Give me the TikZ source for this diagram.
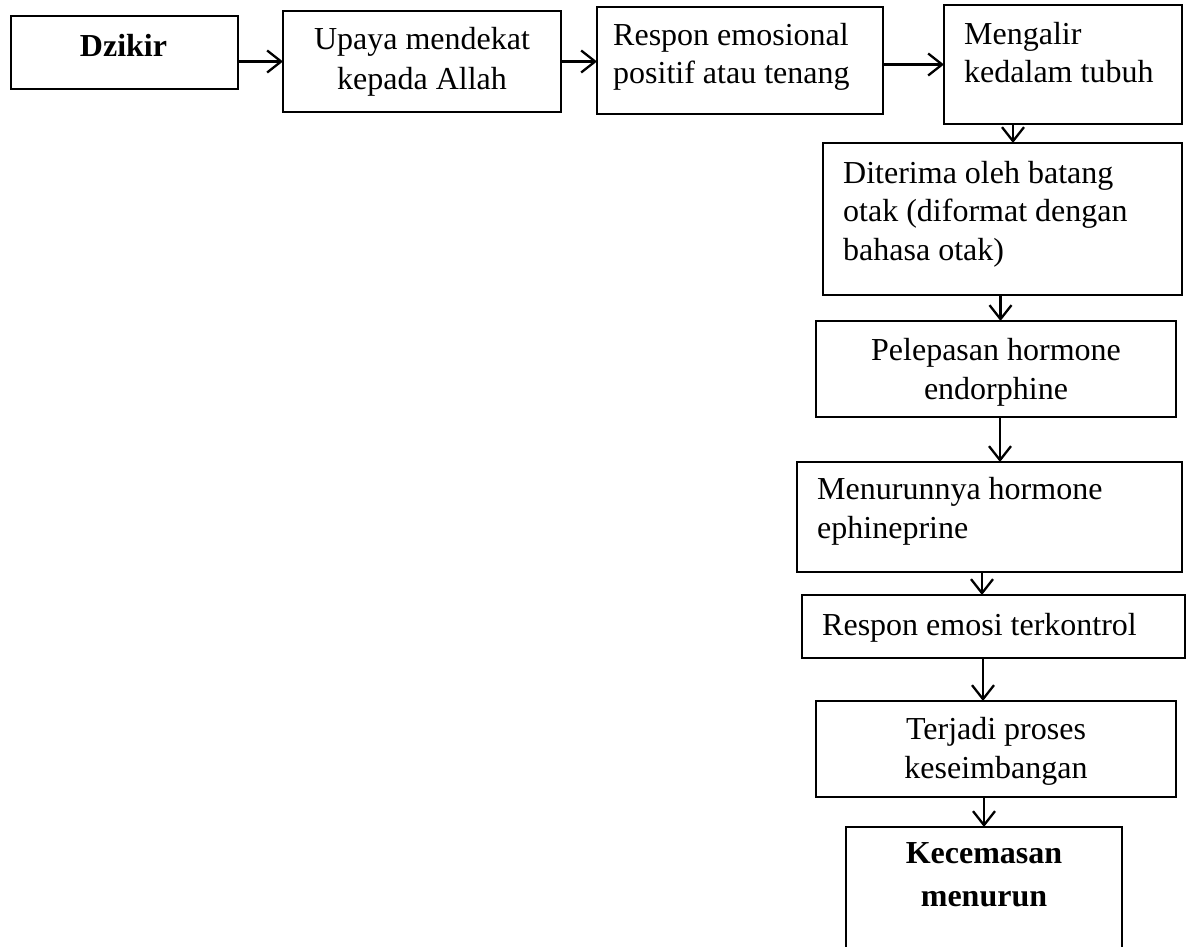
\documentclass[tikz,border=0pt]{standalone}
\usepackage{fontspec}
\setmainfont{Liberation Serif}
\usetikzlibrary{arrows.meta}
\tikzset{
  box/.style={draw, line width=1.6pt, inner sep=0pt, outer sep=0pt, anchor=north west},
  arr/.style={line width=2.5pt, -{Straight Barb[length=14pt, width=22pt, line width=2.3pt]}},
  txt/.style={inner sep=0pt, font=\fontsize{32}{38.5}\selectfont},
  btxt/.style={inner sep=0pt, font=\fontsize{32}{38.5}\selectfont\bfseries},
}
\newcommand{\mybox}[5]{\node[box, minimum width=#4pt-#2pt, minimum height=#5pt-#3pt] (#1) at (#2,#3) {};}
\begin{document}
\begin{tikzpicture}[x=1pt, y=-1pt]
\useasboundingbox (0,0) rectangle (1189,947);
% boxes
\mybox{b1}{11}{16}{238}{89}
\mybox{b2}{283}{11}{561}{112}
\mybox{b3}{597}{7}{883}{114}
\mybox{b4}{944}{5}{1182}{124}
\mybox{b5}{823}{143}{1182}{295}
\mybox{b6}{816}{321}{1176}{417}
\mybox{b7}{797}{462}{1182}{572}
\mybox{b8}{802}{595}{1185}{658}
\mybox{b9}{816}{701}{1176}{797}
\mybox{b10}{846}{827}{1122}{965}
% texts (anchor = baseline of the last line)
\node[btxt, anchor=base] (t1) at (123.5,57) {Dzikir};
\node[txt, anchor=base, align=center] (t2) at (422,90) {Upaya mendekat\\[1.5pt]kepada Allah};
\node[txt, anchor=base west, align=left] (t3) at (613,84) {Respon emosional\\positif atau tenang};
\node[txt, anchor=base west, align=left] (t4) at (964,83) {Mengalir\\kedalam tubuh};
\node[txt, anchor=base west, align=left] (t5) at (843,260) {Diterima oleh batang\\otak (diformat dengan\\bahasa otak)};
\node[txt, anchor=base, align=center] (t6) at (996,399) {Pelepasan hormone\\endorphine};
\node[txt, anchor=base west, align=left] (t7) at (817,538) {Menurunnya hormone\\ephineprine};
\node[txt, anchor=base west] (t8) at (822,635) {Respon emosi terkontrol};
\node[txt, anchor=base, align=center] (t9) at (996,778) {Terjadi proses\\keseimbangan};
\node[btxt, anchor=base, align=center] (t10) at (984,906) {Kecemasan\\[4.5pt]menurun};
% connectors
\draw[arr] (b1.east |- b2.west) -- (b2.west);
\draw[arr] (b2.east) -- (b2.east -| b3.west);
\draw[arr] (b3.east |- b4.west) -- (b4.west);
\draw[arr] ([xshift=-50pt]b4.south) -- ([xshift=-50pt]b4.south |- b5.north);
\draw[arr] ([xshift=-2pt]b5.south) -- ([xshift=-2pt]b5.south |- b6.north);
\draw[arr] ([xshift=4pt]b6.south) -- ([xshift=4pt]b6.south |- b7.north);
\draw[arr] ([xshift=-7.5pt]b7.south) -- ([xshift=-7.5pt]b7.south |- b8.north);
\draw[arr] ([xshift=-13pt]b9.north |- b8.south) -- ([xshift=-13pt]b9.north);
\draw[arr] (b9.south -| b10.north) -- (b10.north);
\end{tikzpicture}
\end{document}
